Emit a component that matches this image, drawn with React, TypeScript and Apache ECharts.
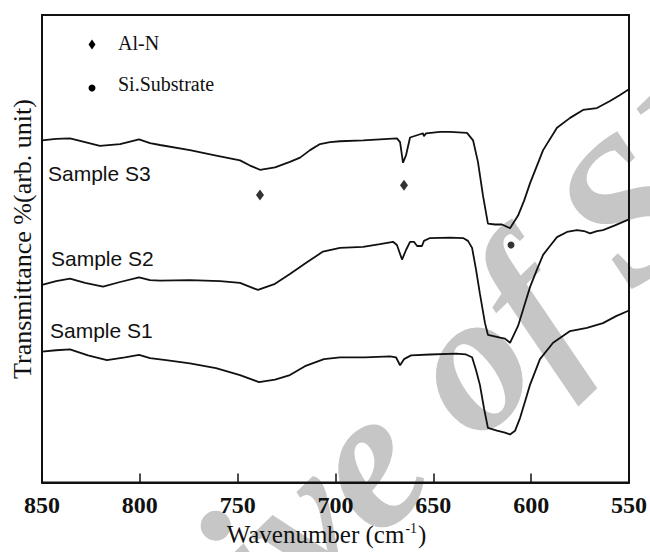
import React, { useEffect, useRef } from "react";
import * as echarts from "echarts";

// x-axis tick values (wavenumber, cm-1)
const xTicks = [850, 800, 750, 700, 650, 600, 550];

// Sample S3 (top curve)
const s3Wn = [850, 842.8, 835.7, 828.0, 820.4, 810.1, 800.4, 794.8, 789.7, 774.4, 761.6, 748.8, 743.7, 738.6, 730.9, 723.3, 718.1, 713.0, 707.9, 702.8, 697.7, 685.9, 668.6, 667.0, 665.5, 663.9, 661.9, 656.8, 655.3, 654.8, 653.7, 646.6, 641.5, 632.8, 629.7, 627.2, 624.6, 622.1, 618.5, 614.9, 610.8, 606.7, 603.6, 600.6, 593.9, 586.8, 580.1, 573.5, 566.4, 559.7, 555.0, 550];
const s3T = [73.2, 73.5, 73.6, 72.8, 72.0, 72.4, 73.4, 72.6, 72.2, 71.1, 70.0, 68.9, 67.8, 66.9, 67.4, 68.6, 69.5, 71.1, 72.4, 72.8, 73.0, 73.2, 73.6, 72.8, 68.4, 70.1, 73.8, 74.5, 74.7, 74.1, 74.7, 75.0, 75.0, 74.8, 73.2, 68.6, 61.3, 55.4, 55.2, 55.2, 54.4, 57.1, 60.3, 64.0, 71.1, 75.9, 78.0, 79.7, 80.1, 81.6, 82.8, 84.1];

// Sample S2 (middle curve)
const s2Wn = [850, 842.8, 835.7, 828.0, 818.8, 810.1, 800.4, 794.8, 789.7, 774.4, 759.0, 748.8, 739.6, 730.9, 723.3, 714.6, 706.4, 697.7, 685.9, 677.3, 670.6, 668.6, 666.0, 663.9, 661.9, 659.9, 658.3, 655.8, 654.8, 651.7, 641.5, 634.8, 632.3, 630.2, 628.2, 626.2, 623.6, 622.1, 615.9, 613.4, 610.8, 606.7, 603.6, 600.6, 597.0, 593.9, 590.4, 586.8, 581.7, 576.6, 573.0, 569.9, 566.4, 563.3, 557.2, 550];
const s2T = [42.3, 43.1, 43.6, 42.7, 41.9, 42.9, 43.9, 43.3, 43.2, 43.3, 43.1, 42.7, 41.2, 42.5, 44.6, 47.1, 49.4, 50.2, 50.4, 51.0, 51.5, 50.8, 47.7, 49.8, 51.5, 51.5, 50.6, 50.6, 51.7, 52.3, 52.4, 52.3, 51.7, 50.2, 45.6, 40.4, 34.1, 31.6, 31.0, 30.8, 29.9, 33.5, 37.7, 41.8, 45.6, 48.7, 50.6, 52.5, 53.6, 54.0, 53.8, 53.3, 53.8, 54.0, 55.0, 56.3];

// Sample S1 (bottom curve)
const s1Wn = [850, 842.8, 835.7, 826.5, 816.8, 807.6, 800.4, 794.8, 786.6, 774.4, 761.1, 748.8, 739.1, 730.9, 723.3, 715.6, 705.9, 697.7, 684.9, 672.1, 669.1, 667.0, 665.0, 661.4, 651.7, 638.4, 633.3, 630.2, 628.2, 626.2, 624.1, 622.1, 617.5, 613.4, 610.8, 608.2, 605.7, 603.1, 600.6, 595.5, 588.8, 580.1, 571.5, 563.3, 556.6, 550];
const s1T = [28.0, 28.3, 28.5, 27.2, 26.2, 26.8, 27.3, 26.6, 26.2, 25.5, 24.5, 23.0, 21.5, 22.0, 23.0, 24.9, 26.4, 26.8, 26.8, 27.0, 26.8, 25.1, 26.4, 27.2, 27.4, 27.6, 27.4, 26.8, 24.1, 20.9, 15.9, 11.7, 11.1, 10.7, 10.3, 11.1, 13.8, 17.4, 20.9, 26.4, 29.9, 32.4, 33.1, 34.1, 35.6, 36.8];

// Band markers
const alnWn = [738.6, 665.0];
const alnT = [61.5, 63.6];
const siWn = [610.3];
const siT = [50.8];

const sampleLabels = ["Sample S3", "Sample S2", "Sample S1"];
const legendLabels = ["Al-N", "Si.Substrate"];

const zip = (xs: number[], ys: number[]) => xs.map((x, i) => [x, ys[i]]);

export default function App() {
  const ref = useRef<HTMLDivElement>(null);
  useEffect(() => {
    if (!ref.current) return;
    const chart = echarts.init(ref.current, null, { renderer: "svg" });
    const serif = "'Liberation Serif', 'Times New Roman', serif";
    const sans = "'Liberation Sans', Arial, sans-serif";
    const lineStyle = { color: "#111", width: 1.8 };
    chart.setOption({
      animation: false,
      backgroundColor: "#fff",
      grid: {
        left: 42,
        top: 15,
        width: 587,
        height: 478,
        show: true,
        borderColor: "#111",
        borderWidth: 2,
        containLabel: false,
      },
      xAxis: {
        type: "value",
        min: xTicks[xTicks.length - 1],
        max: xTicks[0],
        interval: 50,
        inverse: true,
        axisLine: { show: true, lineStyle: { color: "#111", width: 2 } },
        axisTick: { show: true, inside: true, length: 9, lineStyle: { color: "#111", width: 1.5 } },
        splitLine: { show: false },
        axisLabel: {
          color: "#111",
          fontFamily: serif,
          fontWeight: "bold",
          fontSize: 24,
          margin: 10,
        },
        name: "Wavenumber (cm{sup|-1})",
        nameLocation: "middle",
        nameGap: 32,
        nameTextStyle: {
          color: "#111",
          fontFamily: serif,
          fontSize: 25,
          padding: [0, 18, 0, 0],
          rich: {
            sup: {
              fontFamily: serif,
              fontSize: 14,
              color: "#111",
              verticalAlign: "top",
              padding: [0, 1, 12, 1],
            },
          },
        },
      },
      yAxis: {
        type: "value",
        min: 0,
        max: 100,
        show: false,
      },
      graphic: [
        {
          type: "text",
          z: -10,
          x: 378,
          y: 447,
          rotation: (44 * Math.PI) / 180,
          silent: true,
          style: {
            text: "Archive of SID",
            fill: "#c6c6c6",
            font: `italic bold 200px ${serif}`,
            textAlign: "center",
            textVerticalAlign: "middle",
            align: "center",
            verticalAlign: "middle",
          },
        },
        {
          type: "text",
          x: 22,
          y: 239,
          rotation: Math.PI / 2,
          style: {
            text: "Transmittance %(arb. unit)",
            fill: "#111",
            font: `26px ${serif}`,
            textAlign: "center",
            textVerticalAlign: "middle",
            align: "center",
            verticalAlign: "middle",
          },
        },
        ...[
          [48, 173],
          [51, 258],
          [50, 330],
        ].map(([x, y], i) => ({
          type: "text",
          x,
          y,
          style: {
            text: sampleLabels[i],
            fill: "#111",
            font: `21px ${sans}`,
            textAlign: "left",
            textVerticalAlign: "middle",
            align: "left",
            verticalAlign: "middle",
          },
        })),
        {
          type: "polygon",
          shape: { points: [[92, 39.5], [95.5, 44.5], [92, 49.5], [88.5, 44.5]] },
          style: { fill: "#000" },
        },
        {
          type: "circle",
          shape: { cx: 92, cy: 88, r: 3.5 },
          style: { fill: "#000" },
        },
        ...[43, 84].map((y, i) => ({
          type: "text",
          x: 118,
          y,
          style: {
            text: legendLabels[i],
            fill: "#111",
            font: `20px ${serif}`,
            textAlign: "left",
            textVerticalAlign: "middle",
            align: "left",
            verticalAlign: "middle",
          },
        })),
      ],
      series: [
        { name: "Sample S3", type: "line", data: zip(s3Wn, s3T), symbol: "none", lineStyle, z: 3 },
        { name: "Sample S2", type: "line", data: zip(s2Wn, s2T), symbol: "none", lineStyle, z: 3 },
        { name: "Sample S1", type: "line", data: zip(s1Wn, s1T), symbol: "none", lineStyle, z: 3 },
        {
          name: "Al-N",
          type: "scatter",
          data: zip(alnWn, alnT),
          symbol: "diamond",
          symbolSize: [8, 11],
          itemStyle: { color: "#000" },
          z: 4,
        },
        {
          name: "Si.Substrate",
          type: "scatter",
          data: zip(siWn, siT),
          symbol: "circle",
          symbolSize: 7,
          itemStyle: { color: "#000" },
          z: 4,
        },
      ],
    });
    return () => chart.dispose();
  }, []);
  return (
    <div
      ref={ref}
      style={{ position: "fixed", left: 0, top: 0, width: 650, height: 552 }}
    />
  );
}
